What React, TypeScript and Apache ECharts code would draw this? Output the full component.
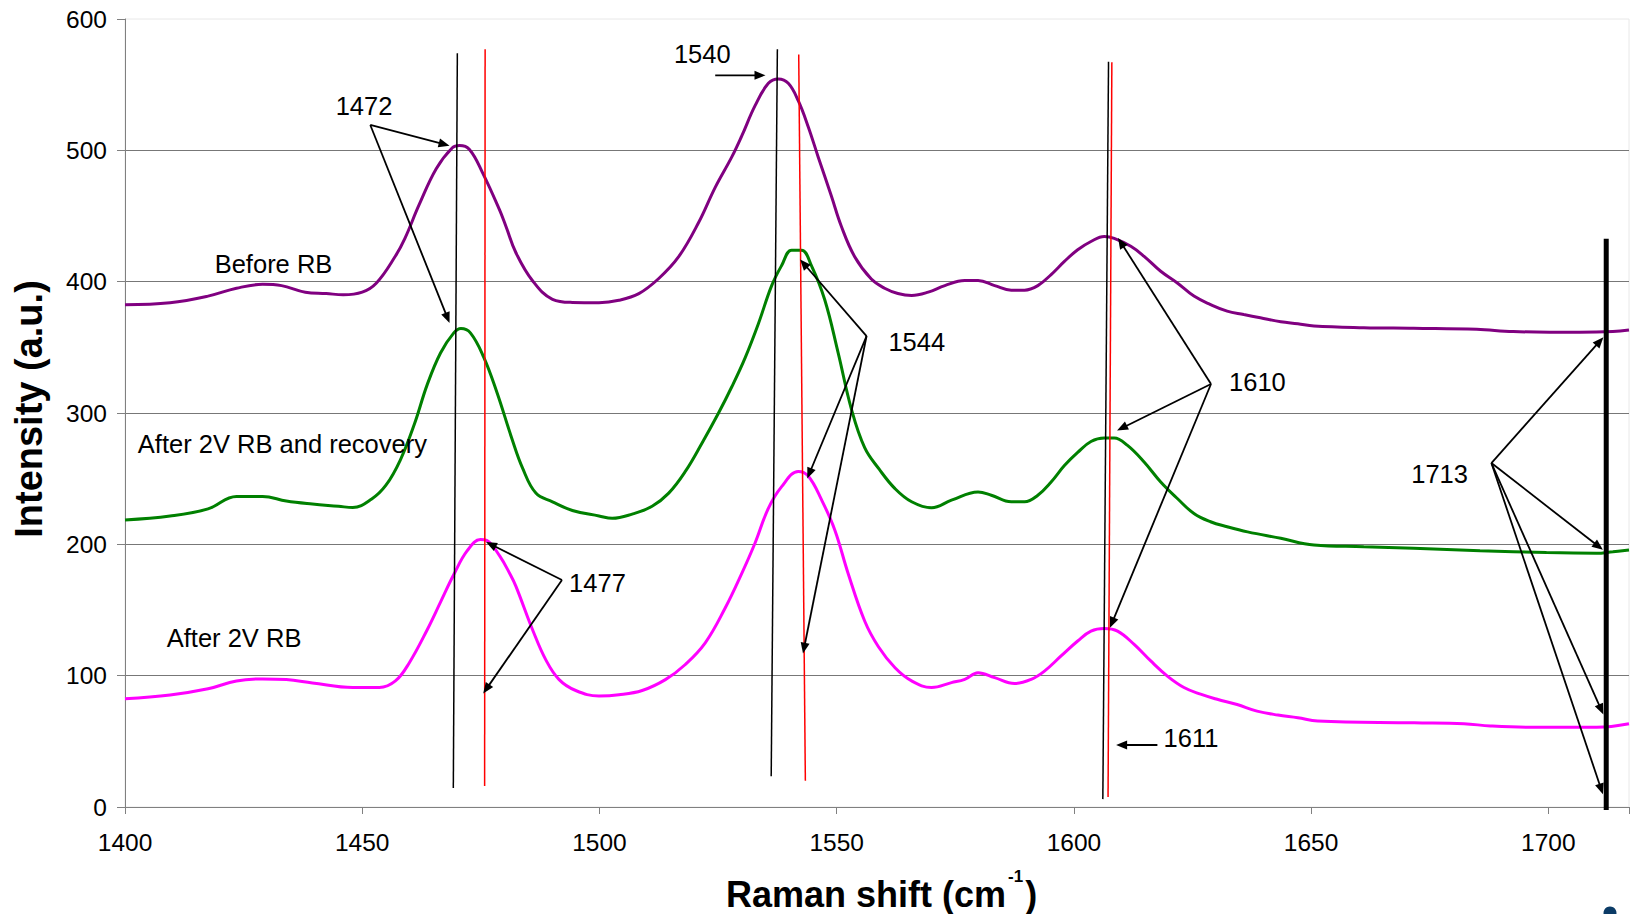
import React, { useEffect, useRef } from 'react';
import * as echarts from 'echarts';

const FONT = '"Liberation Sans", Arial, Helvetica, sans-serif';

// Axis ranges and tick labels
const X_MIN = 1400;
const X_MAX = 1717;
const xTickLabels = [1400, 1450, 1500, 1550, 1600, 1650, 1700];
const Y_MIN = 0;
const Y_MAX = 600;

// Series: [Raman shift (cm-1), intensity (a.u.)]
const beforeRB: [number, number][] = [
  [1400, 382.5], [1409.5, 384], [1417.5, 389], [1423.5, 395], [1429, 398], [1433, 397],
  [1438, 392], [1442.4, 391], [1446, 390], [1450, 392], [1453, 399], [1457, 419.5],
  [1459, 433], [1462, 458.6], [1465.6, 486], [1469, 502], [1470.5, 503.7], [1472.6, 500.7],
  [1475.4, 482.7], [1478.9, 455], [1480.3, 442], [1482.4, 422], [1485.9, 400.7], [1490.1, 386.6],
  [1494.3, 384.2], [1499.9, 384], [1504.1, 385.8], [1508.3, 390.9], [1512.5, 402.4], [1516.7, 419],
  [1520.9, 445], [1524.4, 471.8], [1527.9, 495], [1530, 511], [1532.8, 534], [1535.6, 551],
  [1537.7, 554.3], [1539.8, 551], [1541.9, 537.8], [1544, 518], [1546.1, 495], [1548.9, 465],
  [1551, 442], [1553.8, 419], [1557.3, 402], [1560.1, 395], [1562.9, 391], [1565.8, 389.5],
  [1569.3, 392], [1572.8, 397], [1577, 400.8], [1579.8, 400.8], [1583.3, 397], [1586.8, 393.5],
  [1589.6, 393.5], [1592.4, 397], [1595.2, 405.4], [1598, 415.4], [1600.8, 424.3], [1603.6, 430.6],
  [1606.4, 434.4], [1608.5, 433], [1612, 426.9], [1614.8, 419.3], [1618.3, 407.9], [1621.8, 399],
  [1625.3, 389], [1628.8, 382.6], [1632.3, 377.6], [1635.8, 375], [1639.3, 372.5], [1643.6, 369.5],
  [1647.2, 368], [1650.6, 366.3], [1661.1, 365], [1671.6, 364.5], [1684.9, 363.7], [1692.6, 362],
  [1706.6, 361.4], [1713.6, 362], [1717, 363.2],
];

const afterRecovery: [number, number][] = [
  [1400, 218.5], [1409.5, 221.5], [1417.5, 227], [1423.5, 236.5], [1429, 236.5], [1434, 233],
  [1439.5, 230.7], [1445, 229], [1448, 228], [1452, 234.5], [1455, 245], [1458, 264],
  [1461, 291.6], [1463.7, 321.6], [1466.5, 345.7], [1469.3, 361], [1470.8, 364.3], [1472.8, 361],
  [1475.6, 342.6], [1478.4, 315.6], [1481.5, 281], [1483.8, 258], [1486.6, 239], [1490.1, 232.4],
  [1494.3, 225.8], [1499.9, 221.6], [1502.7, 219.8], [1506.9, 223], [1511.1, 229], [1514.6, 239],
  [1518.1, 255.5], [1521.6, 277], [1525.1, 300], [1527.9, 320], [1530.7, 342], [1533.5, 368],
  [1536.3, 397], [1538.4, 412.3], [1540.5, 424], [1542.6, 424], [1544.7, 412], [1547.5, 386],
  [1550.3, 346], [1553.1, 303], [1555.9, 273.6], [1559, 257], [1562.3, 242.4], [1565.8, 232.4],
  [1570, 227.8], [1574.2, 233.6], [1579.8, 239.9], [1582.6, 237.4], [1586.8, 232.4], [1589.6, 232.4],
  [1592.4, 237.4], [1595.2, 247.5], [1598, 260], [1600.8, 270], [1603.6, 278.3], [1606.4, 281],
  [1608.5, 281], [1611.3, 275.3], [1614.8, 262.7], [1618.3, 247.5], [1621.8, 234.9], [1625.3, 223.5],
  [1628.8, 217.2], [1632.3, 213.4], [1636.6, 209.5], [1643.6, 204.6], [1650.6, 199.5], [1661.1, 198.2],
  [1671.6, 197], [1685.6, 195.2], [1699.6, 193.7], [1710.1, 193.2], [1713.6, 194.4], [1717, 195.7],
];

const after2V: [number, number][] = [
  [1400, 82.4], [1409.5, 85.3], [1417.5, 90], [1423.5, 96], [1429, 97.5], [1434, 97],
  [1439.5, 94.5], [1448, 91], [1453.6, 91], [1457, 96], [1459.9, 109.7], [1463.7, 135],
  [1466.5, 156], [1469.3, 177], [1472.1, 195], [1474.9, 203.7], [1476.3, 202.8], [1479, 191],
  [1481.2, 177], [1482.4, 168], [1485.9, 135], [1488.7, 112], [1491.5, 97], [1495, 88.7],
  [1499.9, 84.5], [1504.1, 85.4], [1509, 88.7], [1513.9, 97], [1518.1, 108.5], [1522.3, 125],
  [1526.5, 151.5], [1530, 177.9], [1532.8, 201], [1535.6, 227.4], [1538.4, 243.9], [1541.9, 255.5],
  [1544, 252], [1546.8, 234], [1549.6, 211], [1552.4, 178], [1555.9, 141.6], [1558.8, 122],
  [1562.3, 106], [1565.8, 96], [1570, 91], [1574.2, 94.7], [1577, 97.2], [1579.8, 102.3],
  [1583.3, 98.5], [1587.5, 94], [1591, 97.2], [1593.8, 103.5], [1597.3, 115], [1600.8, 126.4],
  [1603.6, 133.9], [1606.4, 135.9], [1609.2, 133.9], [1612.7, 123.8], [1616.2, 111.2], [1619.7, 99.7],
  [1623.2, 91], [1626.7, 85.9], [1630.2, 82], [1634.4, 78], [1638.6, 73], [1643, 70],
  [1647.2, 68], [1651.4, 65.5], [1671.7, 64.1], [1682.2, 63.4], [1687.8, 61.7], [1696.2, 60.7],
  [1710.2, 60.7], [1717, 63.4],
];

// Annotations, in data units
const blackRefLines: [number, number][][] = [
  [[1470.05, 574], [1469.2, 14.5]],
  [[1537.5, 577], [1536.2, 23.5]],
  [[1607.3, 567.5], [1606.1, 6]],
];
const redRefLines: [number, number][][] = [
  [[1475.9, 577], [1475.8, 16]],
  [[1542.0, 573], [1543.4, 20]],
  [[1608.0, 567], [1607.2, 7.6]],
];
const thickRefLine: [number, number][] = [[1712.2, 432.7], [1712.2, -2.3]];

const arrowGroups: { origin: [number, number]; tips: [number, number][] }[] = [
  { origin: [1451.7, 519.3], tips: [[1468.4, 503.5], [1468.4, 368.5]] },
  { origin: [1524.4, 557.1], tips: [[1535.0, 557.1]] },
  { origin: [1556.3, 358.6], tips: [[1542.3, 416.9], [1543.8, 250.1], [1542.9, 116.8]] },
  { origin: [1628.9, 322.1], tips: [[1609.3, 433.3], [1609.1, 286.7], [1607.6, 136.4]] },
  { origin: [1617.6, 47.2], tips: [[1608.9, 47.2]] },
  { origin: [1492.1, 172.8], tips: [[1476.1, 201.8], [1475.5, 86.4]] },
  { origin: [1688.0, 261.9], tips: [[1711.6, 357.7], [1711.5, 195.8], [1711.6, 70.4], [1711.5, 9.7]] },
];

const peakLabels: { text: string; at: [number, number] }[] = [
  { text: '1472', at: [1444.4, 533.8] },
  { text: '1540', at: [1515.7, 573.3] },
  { text: '1544', at: [1560.9, 354.0] },
  { text: '1610', at: [1632.7, 323.6] },
  { text: '1611', at: [1618.9, 52.5] },
  { text: '1477', at: [1493.6, 170.5] },
  { text: '1713', at: [1671.1, 253.6] },
];
const seriesLabels: { text: string; at: [number, number] }[] = [
  { text: 'Before RB', at: [1418.9, 413.5] },
  { text: 'After 2V RB and recovery', at: [1402.7, 276.4] },
  { text: 'After 2V RB', at: [1408.8, 128.3] },
];

const X_TITLE_MAIN = 'Raman shift (cm';
const X_TITLE_SUP = '-1';
const X_TITLE_END = ')';
const Y_TITLE = 'Intensity (a.u.)';

function measure(text: string, font: string): number {
  const c = document.createElement('canvas').getContext('2d');
  if (!c) return text.length * 18;
  c.font = font;
  return c.measureText(text).width;
}

function textEl(text: string, x: number, y: number, size: number, weight = 'normal', align = 'left', extra: any = {}) {
  return {
    type: 'text',
    x,
    y,
    z: 20,
    silent: true,
    ...extra,
    style: {
      text,
      fontSize: size,
      fontFamily: FONT,
      fontWeight: weight,
      fill: '#000000',
      textAlign: align,
      align,
      textVerticalAlign: 'middle',
      verticalAlign: 'middle',
    },
  };
}

export default function App() {
  const ref = useRef<HTMLDivElement>(null);

  useEffect(() => {
    const el = ref.current;
    if (!el) return;
    const chart = echarts.init(el, null, { renderer: 'svg' });

    const lineSeries = (name: string, data: [number, number][], color: string) => ({
      type: 'line',
      name,
      data,
      showSymbol: false,
      symbol: 'none',
      smooth: 0.4,
      silent: true,
      z: 3,
      lineStyle: { color, width: 3 },
      itemStyle: { color },
    });

    chart.setOption({
      animation: false,
      backgroundColor: '#ffffff',
      grid: {
        left: 125,
        right: 0,
        top: 19,
        bottom: 107,
        show: true,
        borderColor: '#e8e8e8',
        borderWidth: 1,
        backgroundColor: 'transparent',
      },
      xAxis: {
        type: 'value',
        min: X_MIN,
        max: X_MAX,
        interval: 50,
        axisLine: { show: true, onZero: false, lineStyle: { color: '#808080', width: 1 } },
        axisTick: { show: true, length: 7, lineStyle: { color: '#808080' } },
        axisLabel: {
          fontSize: 24.5,
          fontFamily: FONT,
          color: '#000000',
          margin: 23,
          formatter: (v: number) => (xTickLabels.includes(v) ? String(v) : ''),
        },
        splitLine: { show: false },
      },
      yAxis: {
        type: 'value',
        min: Y_MIN,
        max: Y_MAX,
        interval: 100,
        axisLine: { show: true, lineStyle: { color: '#808080', width: 1 } },
        axisTick: { show: true, length: 8, lineStyle: { color: '#808080' } },
        axisLabel: { fontSize: 24.5, fontFamily: FONT, color: '#000000', margin: 18 },
        splitLine: { show: true, showMaxLine: false, lineStyle: { color: '#777777', width: 1 } },
      },
      series: [
        lineSeries('Before RB', beforeRB, '#800080'),
        lineSeries('After 2V RB and recovery', afterRecovery, '#008000'),
        lineSeries('After 2V RB', after2V, '#ff00ff'),
      ],
    });

    const px = (p: [number, number]) => chart.convertToPixel({ gridIndex: 0 }, p) as number[];
    const elements: any[] = [];

    const addLine = (a: [number, number], b: [number, number], stroke: string, width: number) => {
      const [x1, y1] = px(a);
      const [x2, y2] = px(b);
      elements.push({ type: 'line', z: 15, silent: true, shape: { x1, y1, x2, y2 }, style: { stroke, lineWidth: width } });
    };

    blackRefLines.forEach((l) => addLine(l[0], l[1], '#000000', 1.5));
    redRefLines.forEach((l) => addLine(l[0], l[1], '#ff0000', 1.5));
    addLine(thickRefLine[0], thickRefLine[1], '#000000', 5);

    arrowGroups.forEach((g) => {
      const [x1, y1] = px(g.origin);
      g.tips.forEach((t) => {
        const [x2, y2] = px(t);
        const dx = x2 - x1;
        const dy = y2 - y1;
        const len = Math.hypot(dx, dy) || 1;
        const ux = dx / len;
        const uy = dy / len;
        const L = 11;
        const W = 4.5;
        const bx = x2 - ux * L;
        const by = y2 - uy * L;
        elements.push({ type: 'line', z: 16, silent: true, shape: { x1, y1, x2: bx + ux * 2, y2: by + uy * 2 }, style: { stroke: '#000000', lineWidth: 1.8 } });
        elements.push({
          type: 'polygon',
          z: 16,
          silent: true,
          shape: { points: [[x2, y2], [bx - uy * W, by + ux * W], [bx + uy * W, by - ux * W]] },
          style: { fill: '#000000' },
        });
      });
    });

    peakLabels.forEach((l) => {
      const [x, y] = px(l.at);
      elements.push(textEl(l.text, x, y, 25.5));
    });
    seriesLabels.forEach((l) => {
      const [x, y] = px(l.at);
      elements.push(textEl(l.text, x, y, 25.5));
    });

    // Y axis title
    elements.push(textEl(Y_TITLE, 29, 409, 38, 'bold', 'center', { rotation: Math.PI / 2 }));

    // X axis title with superscript
    const mainSize = 36;
    const mainFont = `bold ${mainSize}px ${FONT}`;
    const supFont = `bold 17px ${FONT}`;
    const w1 = measure(X_TITLE_MAIN, mainFont);
    const wSup = measure(X_TITLE_SUP, supFont);
    const x0 = 726;
    const mainY = 906.7 - 0.3465 * mainSize;
    elements.push(textEl(X_TITLE_MAIN, x0, mainY, mainSize, 'bold', 'left'));
    elements.push(textEl(X_TITLE_SUP, x0 + w1 + 2, 876.5, 17, 'bold', 'left'));
    elements.push(textEl(X_TITLE_END, x0 + w1 + wSup + 4, mainY, mainSize, 'bold', 'left'));

    // small dark dot at the bottom right corner of the picture
    elements.push({ type: 'circle', z: 20, silent: true, shape: { cx: 1610, cy: 913, r: 6.5 }, style: { fill: '#0b3b66' } });

    chart.setOption({ graphic: { elements } });

    return () => {
      chart.dispose();
    };
  }, []);

  return (
    <div
      ref={ref}
      style={{ position: 'fixed', left: 0, top: 0, width: 1632, height: 914, background: '#ffffff' }}
    />
  );
}
